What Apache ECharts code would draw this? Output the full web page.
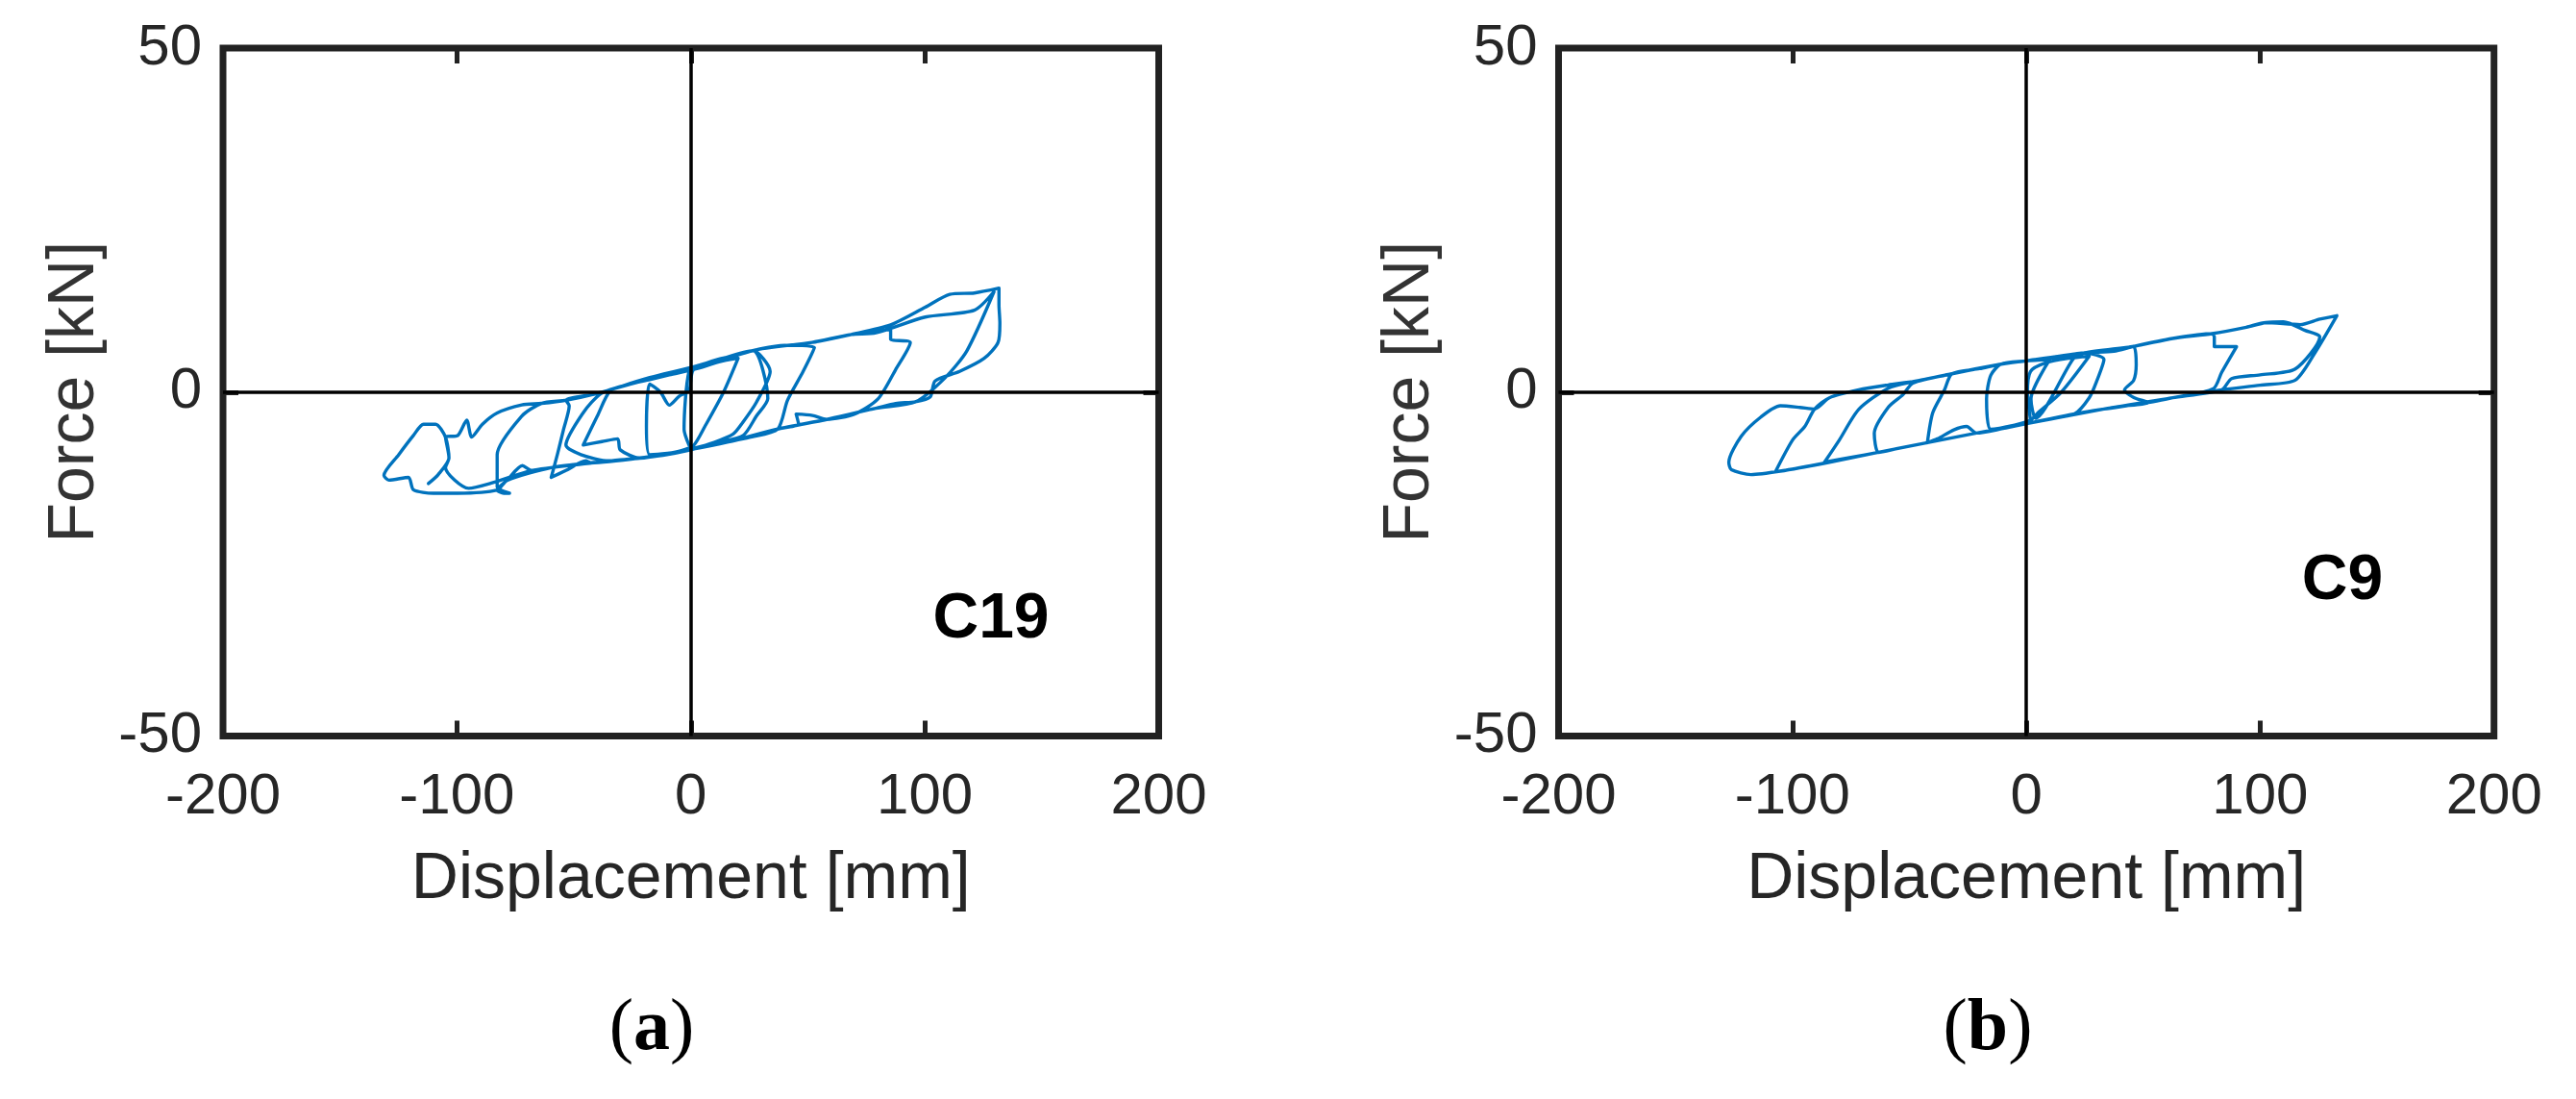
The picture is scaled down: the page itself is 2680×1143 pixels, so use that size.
<!DOCTYPE html>
<html>
<head>
<meta charset="utf-8">
<script src="https://cdn.jsdelivr.net/npm/echarts@6/dist/echarts.min.js"></script>
<style>
html,body{margin:0;padding:0;background:#fff;}
#chart{width:2680px;height:1143px;}
</style>
</head>
<body>
<div id="chart"></div>
<script>
// ---- tick values ----
const xTicks = [-200, -100, 0, 100, 200];
const yTicks = [-50, 0, 50];

// ---- panel texts ----
const panelTags = ['C19', 'C9'];
const panelLetters = ['a', 'b'];
const xName = 'Displacement [mm]';
const yName = 'Force [kN]';

// ---- hysteresis loop of specimen C19: [displacement mm, force kN] ----
const c19Loop = [
  [-0.8,-7.7],[-2.9,-5.4],[-0.8,3.0],[3.4,3.5],[12,4.4],[20.2,4.9],
  [14,0],[6,-5],[1.3,-7.7],[-4,-8.5],[-10,-8.9],[-17.6,-9.1],
  [-19,-5],[-17.6,1.15],[-13,0],[-9.2,-1.9],[-5,-0.6],[-0.8,0.2],[1,3.2],[10,4.6],[20,5.4],[26.6,6.0],[33.9,3.0],
  [28,-1.5],[22,-4.5],[18.1,-6.1],[10,-7.3],[1,-8.2],[-8,-8.9],[-21.8,-9.6],[-30.2,-8.4],[-31.3,-6.8],[-38,-7.2],[-46,-7.7],
  [-40,-3.5],[-34.4,0.2],[-26,1.15],[-17.6,1.8],[-9.2,2.5],[3.4,3.5],[15,5.0],[26.6,6.0],[32.9,-0.95],[28,-3.5],[22.4,-6.3],[12,-7.3],[0,-8.4],[-12,-9.2],[-21.8,-9.6],[-35,-10.0],[-47,-9.1],[-53.4,-7.7],
  [-46,-3],[-38.6,-0.25],[-30,0.8],[-17.6,2.1],[-0.8,3.5],[15,5.0],[30,6.3],[40,6.8],[52.8,6.5],
  [48,3],[41.3,-1.2],[37.1,-5.4],[25,-6.6],[16,-7.25],[-0.8,-8.4],[-21.8,-9.6],[-42.8,-10.3],[-44.9,-10.0],[-53.4,-11.4],[-59.7,-12.4],
  [-57,-9],[-54.4,-5.4],[-52,-2.0],[-53.4,-1.19],[-40.7,-0.25],[-26,1.15],[-9.2,2.54],[3.4,3.48],[26.6,6.04],[51.8,7.21],[68.6,8.37],[75,8.8],[85.4,9.07],[85.4,7.67],[93.8,7.2],[87.5,3.24],
  [80,-1],[70,-3.2],[58.1,-3.98],[52,-3.4],[45,-3.2],[46,-4.6],[37.1,-5.38],[16,-7.25],[-0.8,-8.41],[-21.8,-9.58],[-42.8,-10.28],[-59.7,-10.98],[-68.1,-11.4],[-72,-10.7],[-78.6,-12.84],[-82.8,-14.24],[-80,-14.7],[-77.5,-14.7],[-82.8,-13.8],[-82.8,-9.1],
  [-72.3,-3.5],[-63.9,-1.65],[-53.4,-1.19],[-40.7,-0.25],[-26.0,1.15],[-9.2,2.54],[3.4,3.48],[26.6,6.04],[51.8,7.21],[68.6,8.37],[79.1,8.6],[100.2,10.9],[121.2,11.9],[129.6,14.6],
  [118,6],[108.6,2.05],[96,-1.42],[79.1,-2.35],[58.1,-3.98],[37.1,-5.38],[16,-7.25],[-0.8,-8.41],[-21.8,-9.58],[-47,-10.5],[-68.1,-11.4],[-84.9,-13.2],[-95,-14],[-104.9,-10.98],
  [-103.4,-9.58],[-104.9,-6.55],[-99.6,-6.3],[-95.8,-4.08],[-93.7,-6.55],[-89.1,-4.68],[-82.8,-3.05],[-72.3,-1.88],[-63.9,-1.65],[-53.4,-1.19],[-40.7,-0.25],[-26,1.15],[-9.2,2.54],[3.4,3.48],[26.6,6.04],[51.8,7.21],[68.6,8.37],[85.4,9.77],[100.2,12.33],[110.7,14.2],[121.2,14.4],[131.7,15.1],
  [131.7,12.8],[132.1,10.0],[131.3,7.2],[125.4,4.9],[114.9,3.0],[104.4,1.61],[102.3,-0.72],[96,-1.42],[87.5,-1.65],[79.1,-2.35],[58.1,-3.98],[37.1,-5.38],[16,-7.25],[-0.8,-8.41],[-21.8,-9.58],[-42.8,-10.28],[-59.7,-10.98],[-78.6,-12.84],[-82.8,-14.24],[-99.6,-14.7],[-110.1,-14.7],[-118.6,-14.2],[-120.7,-12.4],[-129.1,-12.8],[-131.2,-12.1],
  [-124.9,-9.11],[-118.6,-6.31],[-114.3,-4.68],[-109.1,-4.68],[-104.9,-6.55],[-103.4,-9.58],[-108,-12],[-112.2,-13.3]
];

// ---- hysteresis loop of specimen C9: [displacement mm, force kN] ----
const c9Loop = [
  [1.8,-4.1],[0.5,0],[1.8,3.0],[8,4.2],[18,4.9],[26.9,5.2],
  [15,0],[5,-3],[1.8,-4.1],[-5,-4.8],[-15.2,-5.4],
  [-17,-1],[-15.2,2.43],[-10.8,4.06],[-0.3,4.53],[12,5.0],[24.9,5.69],[33.2,4.76],
  [30,1.5],[26.9,-0.83],[20.7,-3.16],[10,-3.9],[0.7,-4.56],[-10,-5.3],[-21.3,-5.96],[-25.5,-5.0],[-31,-5.5],[-38,-6.8],[-42.3,-7.36],
  [-40,-3],[-35,0.3],[-31.8,2.66],[-20,3.4],[-10.8,4.06],[-0.3,4.53],[12,5.1],[24.9,5.69],[37.4,5.93],[45.8,6.63],
  [47,4],[45.9,1.7],[42,0.3],[46,-0.8],[52.1,-1.53],[40,-2.1],[33.2,-2.47],[20.7,-3.16],[0.7,-4.56],[-21.3,-5.96],[-42.3,-7.36],[-55,-8.2],[-63.2,-8.76],
  [-65,-6],[-59,-2.2],[-52.7,-0.37],[-48.5,1.3],[-31.8,2.66],[-10.8,4.06],[-0.3,4.53],[10,4.7],[2,-1],[4,-3.8],[20,4.8],[24.9,5.69],[45.8,6.63],[62.6,7.79],[79.4,8.49],[80.4,8.0],[80.4,6.6],[89.9,6.6],[83.6,2.9],
  [80,0.5],[62.6,-0.83],[52.1,-1.53],[33.2,-2.47],[0.7,-4.56],[-21.3,-5.96],[-42.3,-7.36],[-63.2,-8.76],[-75,-9.5],[-86.3,-10.2],
  [-80,-7],[-71.6,-2.5],[-59,0.57],[-48.5,1.5],[-31.8,2.66],[-10.8,4.06],[-0.3,4.53],[24.9,5.69],[45.8,6.63],[62.6,7.79],[79.4,8.49],[94.1,9.42],[102.4,10.1],[110,10.2],[119.2,8.96],[125.5,8.0],[115,3.36],[100,2.5],[87.8,1.96],[83.6,0.33],[62.6,-0.83],[33.2,-2.47],[0.7,-4.56],[-21.3,-5.96],[-42.3,-7.36],[-63.2,-8.76],[-84.2,-10.2],[-95,-10.9],[-107.3,-11.6],
  [-100,-7],[-94.7,-5.0],[-90.5,-2.47],[-84.2,-0.83],[-71.6,0.33],[-59,1.03],[-48.5,1.5],[-31.8,2.66],[-10.8,4.06],[-0.3,4.53],[24.9,5.69],[37.4,5.93],[45.8,6.63],[62.6,7.79],[79.4,8.49],[94.1,9.42],[102.4,10.1],[117.1,9.8],[125.5,10.6],[132.8,11.1],
  [123.4,5.7],[115,1.73],[100,1.0],[83.6,0.33],[62.6,-0.83],[52.1,-1.53],[33.2,-2.47],[20.7,-3.16],[0.7,-4.56],[-21.3,-5.96],[-42.3,-7.36],[-63.2,-8.76],[-84.2,-10.2],[-105.2,-11.5],[-117.7,-12.0],[-126.1,-11.3],[-127.2,-10.2],
  [-121.9,-6.43],[-113.5,-3.63],[-105.2,-2.0],[-96.8,-2.23],[-90.5,-2.47],[-84.2,-0.83],[-71.6,0.33],[-59,1.03],[-48.5,1.5]
];

const loops = [c19Loop, c9Loop];

// ---- styling / layout ----
const FRAME = '#222222';
const TXT = '#262626';
const BLUE = '#0072BD';
const SANS = '"Liberation Sans", Arial, Helvetica, sans-serif';
const SERIF = '"Liberation Serif", "Times New Roman", serif';

const grids = [
  { left: 232, top: 50, right: 1474.5, bottom: 377.5 },
  { left: 1621.5, top: 50, right: 85.3, bottom: 377.5 }
];

function tickStyle() {
  return { show: true, inside: true, length: 16, lineStyle: { color: FRAME, width: 5 } };
}

const xAxes = [], yAxes = [], series = [];
grids.forEach((g, i) => {
  function xBase(pos) {
    return {
      gridIndex: i, type: 'value', position: pos,
      min: xTicks[0], max: xTicks[xTicks.length - 1], interval: xTicks[1] - xTicks[0],
      axisLine: { show: false, onZero: false },
      axisTick: tickStyle(), splitLine: { show: false }
    };
  }
  xAxes.push(Object.assign(xBase('bottom'), {
    axisLabel: { fontSize: 60, fontFamily: SANS, color: TXT, margin: 34 },
    name: xName, nameLocation: 'middle', nameGap: 116,
    nameTextStyle: { fontSize: 68, fontFamily: SANS, color: TXT }
  }));
  xAxes.push(Object.assign(xBase('top'), { axisLabel: { show: false } }));

  function yBase(pos) {
    return {
      gridIndex: i, type: 'value', position: pos,
      min: yTicks[0], max: yTicks[yTicks.length - 1], interval: yTicks[1] - yTicks[0],
      axisLine: { show: false, onZero: false },
      axisTick: tickStyle(), splitLine: { show: false }
    };
  }
  yAxes.push(Object.assign(yBase('left'), {
    axisLabel: { fontSize: 60, fontFamily: SANS, color: TXT, margin: 22 },
    name: yName, nameLocation: 'middle', nameGap: 120,
    nameTextStyle: { fontSize: 68, fontFamily: SANS, color: '#333333' }
  }));
  yAxes.push(Object.assign(yBase('right'), { axisLabel: { show: false } }));

  series.push({
    type: 'line', name: panelTags[i],
    xAxisIndex: i * 2, yAxisIndex: i * 2,
    data: loops[i], showSymbol: false, symbol: 'none', smooth: 0.25,
    lineStyle: { color: BLUE, width: 3.4, join: 'round', cap: 'round' },
    markLine: {
      silent: true, symbol: ['none', 'none'], label: { show: false },
      lineStyle: { color: '#000', width: 3.5, type: 'solid' },
      data: [{ xAxis: 0 }, { yAxis: 0 }]
    }
  });
});

const tagPos = [[1031, 645], [2437, 605]];
const letterPos = [[678, 1071], [2068, 1071]];
const graphics = [];
panelTags.forEach((t, i) => {
  graphics.push({
    type: 'text', x: tagPos[i][0], y: tagPos[i][1], z: 100,
    style: { text: t, fill: '#000', font: 'bold 66px ' + SANS, align: 'center', verticalAlign: 'middle' }
  });
  graphics.push({
    type: 'text', x: letterPos[i][0], y: letterPos[i][1], z: 100,
    style: {
      text: '{p|(}{b|' + panelLetters[i] + '}{p|)}', align: 'center', verticalAlign: 'middle',
      rich: {
        p: { fontSize: 76, fontFamily: SERIF, fill: '#000', color: '#000' },
        b: { fontSize: 76, fontFamily: SERIF, fontWeight: 'bold', fill: '#000', color: '#000' }
      }
    }
  });
});

const chart = echarts.init(document.getElementById('chart'));
chart.setOption({
  animation: false,
  backgroundColor: '#ffffff',
  grid: grids.map(g => Object.assign({ show: true, borderColor: FRAME, borderWidth: 7 }, g)),
  xAxis: xAxes,
  yAxis: yAxes,
  series: series,
  graphic: graphics
});
</script>
</body>
</html>
